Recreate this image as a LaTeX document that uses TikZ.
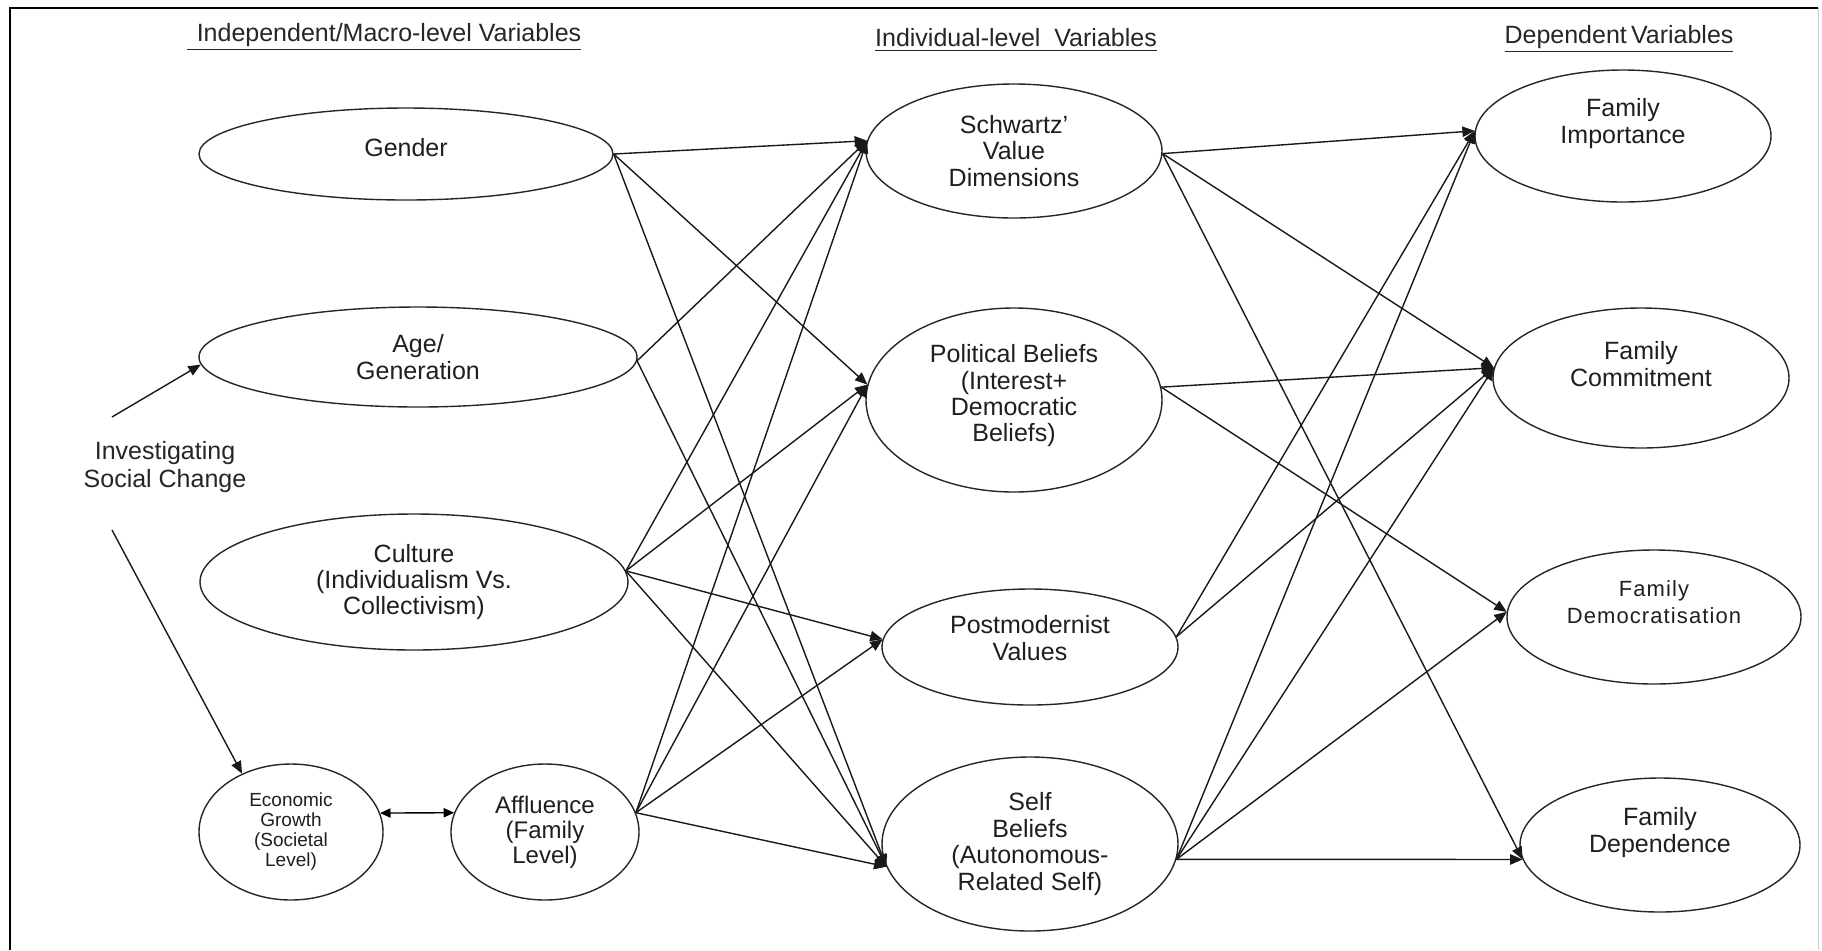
\documentclass[tikz,border=0pt]{standalone}
\usepackage{fontspec}
\setmainfont{Liberation Sans}
\usetikzlibrary{shapes.geometric,arrows.meta}
% push the text of an ellipse upwards by adding an empty last line
\newcommand\liftby[1]{\\[#1]\mbox{}}
\begin{document}
\begin{tikzpicture}[x=0.5pt,y=-0.5pt,
  ell/.style={draw=black!85, ellipse, line width=0.7pt, inner sep=0pt,
    align=center, text=black!88, font=\fontsize{12.5}{13.2}\selectfont},
  link/.style={line width=0.7pt, draw=black!90,
    -{Triangle[length=6.2pt,width=5.2pt]}},
  heading/.style={text=black!85, align=center, font=\fontsize{12.5}{14}\selectfont}]
\useasboundingbox (0,0) rectangle (1822,950);
\fill[white] (0,0) rectangle (1822,950);

% frame
\draw[line width=1pt] (10,950) -- (10,8) -- (1818,8);
\draw[black!20, line width=0.5pt] (1818,8) -- (1818,950);

% column headings
\node[heading] (hind) at (384,37) {\underline{\hspace{5pt}Independent/Macro-level Variables}};
\node[heading] (hmid) at (1016,40) {\underline{Individual-level\ \ Variables}};
\node[heading] (hdep) at (1619,39) {\underline{Dependent\,Variables}};

% macro-level variables
\node[ell, minimum width=207pt, minimum height=46pt] (gender) at (406,154) {Gender\liftby{-6.2pt}};
\node[ell, minimum width=219pt, minimum height=50pt] (age) at (418,357) {Age/\\Generation};
\node[ell, minimum width=214pt, minimum height=68pt] (culture) at (414,582)
  {Culture\\(Individualism Vs.\\Collectivism)};
\node[ell, minimum width=92pt, minimum height=68pt, font=\fontsize{9.5}{10}\selectfont] (econ) at (291,832)
  {Economic\\Growth\\(Societal\\Level)};
\node[ell, minimum width=94pt, minimum height=68pt, font=\fontsize{12}{12.5}\selectfont] (affl) at (545,832)
  {Affluence\\(Family\\Level)};

\node[heading] (isc) at (165,467) {Investigating\\Social Change};
\coordinate (iscup) at (112,417);
\coordinate (iscdown) at (112,530);

% individual-level variables
\node[ell, minimum width=148pt, minimum height=67pt] (schwartz) at (1014,151)
  {Schwartz'\\Value\\Dimensions};
\node[ell, minimum width=148pt, minimum height=92pt] (political) at (1014,400)
  {Political Beliefs\\(Interest+\\Democratic\\Beliefs)\liftby{-6.5pt}};
\node[ell, minimum width=148pt, minimum height=58pt] (postmod) at (1030,647)
  {Postmodernist\\Values\liftby{-4pt}};
\node[ell, minimum width=148pt, minimum height=87pt] (self) at (1030,844)
  {Self\\Beliefs\\(Autonomous-\\Related Self)};

% dependent variables
\node[ell, minimum width=148pt, minimum height=66pt] (fimp) at (1623,136)
  {Family\\Importance\liftby{2pt}};
\node[ell, minimum width=148pt, minimum height=70pt] (fcom) at (1641,378)
  {Family\\Commitment\liftby{1pt}};
\node[ell, minimum width=147pt, minimum height=67pt,
  font=\fontsize{11}{13.5}\selectfont\addfontfeature{LetterSpace=5}] (fdemo) at (1654,617)
  {Family\\Democratisation\liftby{1pt}};
\node[ell, minimum width=140pt, minimum height=67pt] (fdep) at (1660,845)
  {Family\\Dependence\liftby{2pt}};

% social change arrows
\draw[link] (iscup) -- (age.182);
\draw[link] (iscdown) -- (econ.130);
\draw[line width=0.7pt, {Triangle[length=5.2pt,width=4.6pt]}-{Triangle[length=5.2pt,width=4.6pt]}]
  (econ.12) -- (affl.168);

% macro-level -> individual-level
\foreach \t/\a in {schwartz/176, political/174, self/189}
  \draw[link] (gender.east) -- (\t.\a);
\foreach \t/\a in {schwartz/176, self/189}
  \draw[link] (age.-1) -- (\t.\a);
\foreach \t/\a in {schwartz/176, political/174, postmod/177, self/189}
  \draw[link] (culture.3) -- (\t.\a);
\foreach \t/\a in {schwartz/176, political/174, postmod/177, self/189}
  \draw[link] (affl.12) -- (\t.\a);

% individual-level -> dependent
\foreach \t/\a in {fimp/178, fcom/176, fdep/186}
  \draw[link] (schwartz.-1) -- (\t.\a);
\foreach \t/\a in {fcom/176, fdemo/178}
  \draw[link] (political.5) -- (\t.\a);
\foreach \t/\a in {fimp/178, fcom/176}
  \draw[link] (postmod.4) -- (\t.\a);
\foreach \t/\a in {fimp/178, fcom/176, fdemo/178, fdep/186}
  \draw[link] (self.-6) -- (\t.\a);
\end{tikzpicture}
\end{document}
